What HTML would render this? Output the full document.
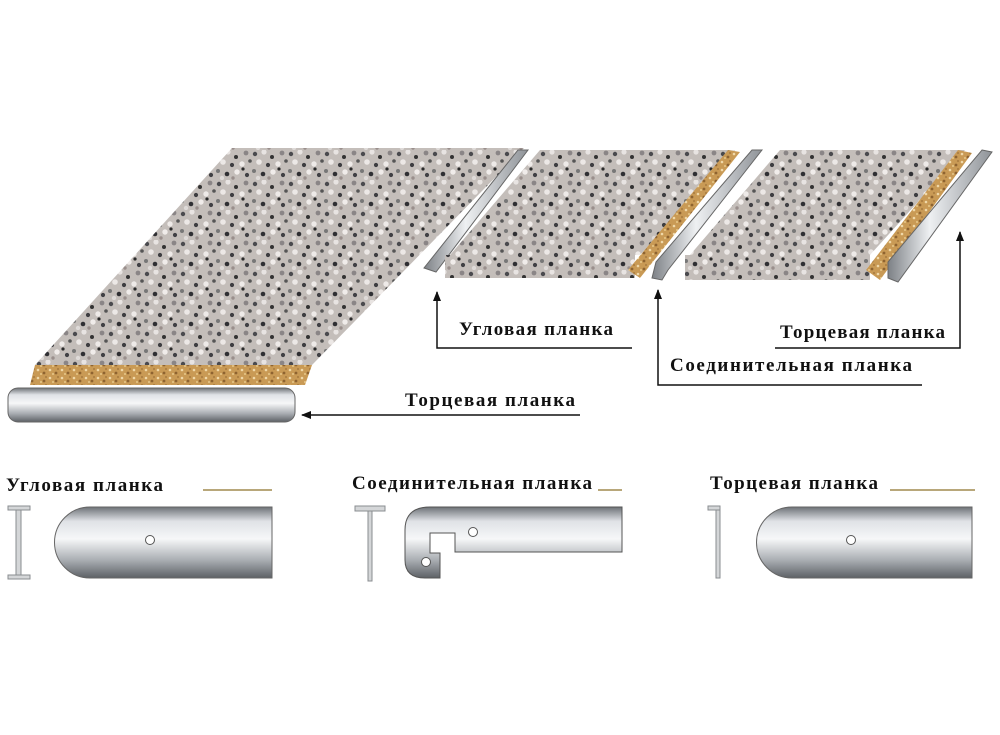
<!DOCTYPE html>
<html><head><meta charset="utf-8"><style>
html,body{margin:0;padding:0;background:#fff;}
svg{display:block}
text{font-family:"Liberation Serif",serif;font-weight:bold;fill:#111;}
</style></head><body>
<svg width="1000" height="735" viewBox="0 0 1000 735" xmlns="http://www.w3.org/2000/svg">
<defs>
<pattern id="gr" width="36" height="30" patternUnits="userSpaceOnUse">
<rect width="36" height="30" fill="#c4beba"/>
<circle cx="3" cy="4" r="2.2" fill="#4a4a4e"/><circle cx="12" cy="2" r="2.6" fill="#e8e4e2"/>
<circle cx="20" cy="7" r="2" fill="#333"/><circle cx="30" cy="3" r="2.4" fill="#8a8586"/>
<circle cx="7" cy="12" r="2.8" fill="#ece8e6"/><circle cx="16" cy="15" r="2.1" fill="#3d3d40"/>
<circle cx="26" cy="14" r="2.7" fill="#eeeae8"/><circle cx="34" cy="11" r="1.8" fill="#555"/>
<circle cx="2" cy="21" r="2" fill="#777"/><circle cx="11" cy="24" r="2.3" fill="#2f2f33"/>
<circle cx="21" cy="22" r="2.7" fill="#f0ecea"/><circle cx="31" cy="25" r="2.1" fill="#404044"/>
<circle cx="17" cy="28" r="1.7" fill="#9a8f8c"/><circle cx="27" cy="19" r="1.6" fill="#2a2a2a"/>
<circle cx="6" cy="28" r="2.2" fill="#dedad8"/>
</pattern>
<pattern id="chip" width="12" height="8" patternUnits="userSpaceOnUse">
<rect width="12" height="8" fill="#c99a55"/>
<circle cx="2" cy="2" r="1.3" fill="#f0d8a8"/><circle cx="8" cy="5" r="1.4" fill="#8e6330"/>
<circle cx="5" cy="6" r="1" fill="#e8c88a"/><circle cx="10" cy="1" r="1" fill="#a87a3e"/>
</pattern>
<linearGradient id="al" x1="0" y1="0" x2="0" y2="1">
<stop offset="0" stop-color="#6d7176"/><stop offset="0.2" stop-color="#dfe2e6"/>
<stop offset="0.45" stop-color="#f6f7f8"/><stop offset="0.75" stop-color="#a9adb2"/>
<stop offset="1" stop-color="#5d6166"/></linearGradient>
<linearGradient id="al2" x1="0" y1="0" x2="1" y2="0">
<stop offset="0" stop-color="#7d8186"/><stop offset="0.4" stop-color="#eef0f2"/>
<stop offset="1" stop-color="#8f9398"/></linearGradient>
<marker id="ar" markerWidth="10" markerHeight="8" refX="9" refY="4" orient="auto" markerUnits="userSpaceOnUse">
<path d="M0,0 L10,4 L0,8 z" fill="#111"/></marker>
</defs>

<polygon points="232,148 524,148 312,365 35,365" fill="url(#gr)"/>
<polygon points="35,365 312,365 305,385 30,385" fill="url(#chip)"/>
<rect x="8" y="388" width="287" height="34" rx="10" fill="url(#al)" stroke="#666" stroke-width="1"/>
<polygon points="518,150 528,150 436,272 424,268" fill="url(#al2)" stroke="#666"/>

<polygon points="540,150 735,150 640,255 450,255" fill="url(#gr)"/>
<rect x="445" y="255" width="190" height="23" fill="url(#gr)"/>
<polygon points="728,150 740,152 640,278 628,270" fill="url(#chip)"/>
<polygon points="752,150 762,150 668,270 662,280 652,278 656,262" fill="url(#al2)" stroke="#666"/>

<polygon points="780,150 965,150 870,255 690,255" fill="url(#gr)"/>
<rect x="685" y="255" width="185" height="25" fill="url(#gr)"/>
<polygon points="958,150 972,153 880,280 866,270" fill="url(#chip)"/>
<polygon points="982,150 992,152 898,282 888,278 888,262" fill="url(#al2)" stroke="#666"/>

<g stroke="#111" stroke-width="1.5" fill="none">
<polyline points="632,348 437,348 437,292" marker-end="url(#ar)"/>
<polyline points="775,348 960,348 960,232" marker-end="url(#ar)"/>
<polyline points="922,385 658,385 658,290" marker-end="url(#ar)"/>
<line x1="580" y1="415" x2="302" y2="415" marker-end="url(#ar)"/>
</g>
<text x="459" y="335" font-size="19" textLength="154" lengthAdjust="spacing">Угловая планка</text>
<text x="780" y="338" font-size="19" textLength="165" lengthAdjust="spacing">Торцевая планка</text>
<text x="670" y="371" font-size="19" textLength="242" lengthAdjust="spacing">Соединительная планка</text>
<text x="405" y="406" font-size="19" textLength="170" lengthAdjust="spacing">Торцевая планка</text>

<text x="6" y="491" font-size="19" textLength="157" lengthAdjust="spacing">Угловая планка</text>
<text x="352" y="489" font-size="19" textLength="240" lengthAdjust="spacing">Соединительная планка</text>
<text x="710" y="489" font-size="19" textLength="168" lengthAdjust="spacing">Торцевая планка</text>
<g stroke="#b8a77a" stroke-width="2">
<line x1="203" y1="490" x2="272" y2="490"/><line x1="598" y1="490" x2="622" y2="490"/><line x1="890" y1="490" x2="975" y2="490"/>
</g>
<g fill="#d4d6d8" stroke="#8a8d90" stroke-width="1">
<rect x="8" y="506" width="22" height="4"/><rect x="16" y="510" width="5" height="65"/><rect x="8" y="575" width="22" height="4"/>
<rect x="355" y="506" width="30" height="5"/><rect x="368" y="511" width="4" height="70"/>
<rect x="708" y="506" width="12" height="4"/><rect x="716" y="510" width="4" height="68"/>
</g>
<path d="M90,507 H272 V578 H90 A35,35 0 0 1 90,507 z" fill="url(#al)" stroke="#666"/>
<circle cx="150" cy="540" r="4.5" fill="#fff" stroke="#555"/>
<path d="M792,507 H972 V578 H792 A35,35 0 0 1 792,507 z" fill="url(#al)" stroke="#666"/>
<circle cx="851" cy="540" r="4.5" fill="#fff" stroke="#555"/>
<path d="M430,507 H622 V552 H455 V533 H430 V553 H440 V578 H425 Q405,578 405,560 V530 Q405,507 430,507 z" fill="url(#al)" stroke="#555"/>
<circle cx="473" cy="532" r="4.5" fill="#fff" stroke="#555"/>
<circle cx="426" cy="562" r="4.5" fill="#fff" stroke="#555"/>
</svg>
</body></html>
